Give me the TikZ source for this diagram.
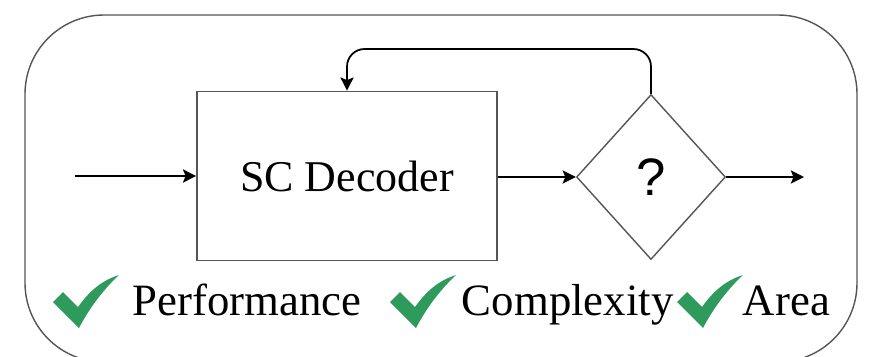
\documentclass[tikz,border=0pt]{standalone}
\usepackage{fontspec}
\setmainfont{Liberation Serif}
\setsansfont{Liberation Sans}
\usetikzlibrary{shapes.geometric,arrows.meta}

\definecolor{tickgreen}{HTML}{2E9B5C}
\definecolor{framegray}{HTML}{555555}

\tikzset{
  tick/.pic={
    \fill[tickgreen] (0,27) -- (10,17) -- (25,32)
      .. controls (37,15) and (50,5) .. (66,0)
      .. controls (51,14) and (37,32) .. (26,53) -- cycle;
  }
}

\begin{document}
\begin{tikzpicture}[x=0.02cm,y=-0.02cm,
    >={Stealth[length=7.5pt,width=7.5pt,inset=1.5pt]},line width=1pt]
  \useasboundingbox (0,0) rectangle (875,356);
  \clip (0,0) rectangle (875,356);

  % outer frame, bottom runs off the page
  \draw[framegray,line width=0.8pt,rounded corners=45] (25,15) rectangle (857,362);

  \begin{scope}[every node/.style={draw=framegray,font=\fontsize{25}{30}\selectfont}]
    \node[minimum width=6cm,minimum height=3.38cm] (dec) at (347,176) {SC Decoder};
    \node[diamond,inner sep=0pt,line width=0.8pt,minimum width=2.98cm,minimum height=3.3cm,
      font=\fontsize{30}{34}\sffamily] (q) at (651,177) {?};
  \end{scope}

  \coordinate (in) at (75,176);
  \coordinate (out) at (804,177);
  \coordinate (top) at (500,49);

  \begin{scope}[every edge/.style={draw=black,->}]
    \path (in) edge (dec.west);
    \path (dec.east |- q.west) edge (q.west);
    \path (q.east) edge (out);
  \end{scope}
  \draw[->,rounded corners=10] (q.north) -- (q.north |- top) -| (dec.north);

  % criteria along the bottom
  \pic at (53,275) {tick};
  \pic at (390,275) {tick};
  \pic at (677,275) {tick};
  \begin{scope}[every node/.style={anchor=base west,inner sep=0pt,font=\fontsize{25.5}{30}\selectfont}]
    \node (perf) at (132,315) {Performance};
    \node (cplx) at (461,315) {Complexity};
    \node (area) at (742,315) {Area};
  \end{scope}
\end{tikzpicture}
\end{document}
